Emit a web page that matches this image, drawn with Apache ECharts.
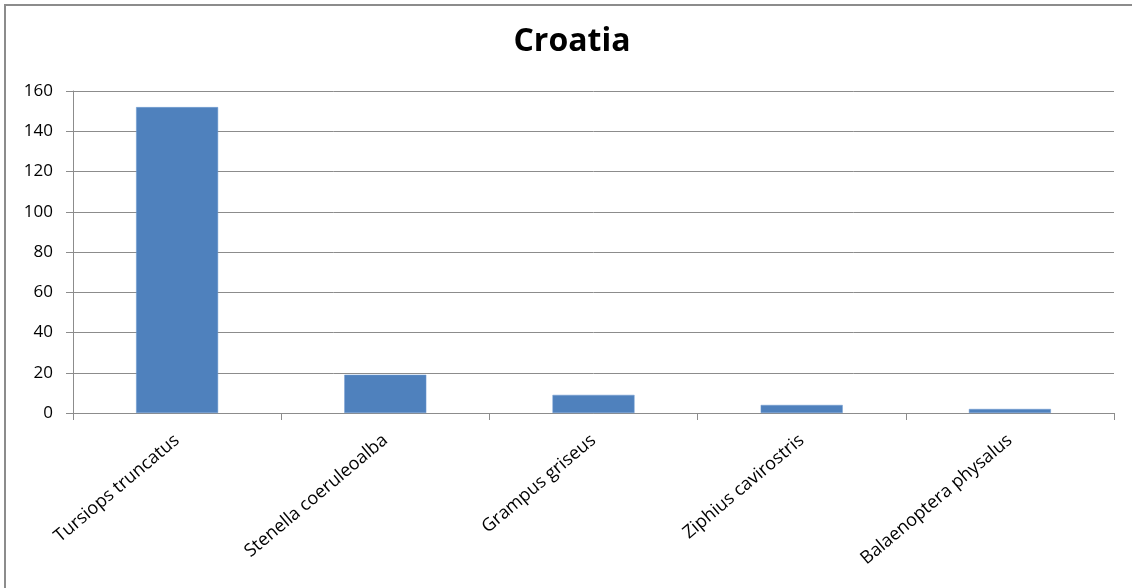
<!DOCTYPE html>
<html>
<head>
<meta charset="utf-8">
<script src="https://cdn.jsdelivr.net/npm/echarts@6/dist/echarts.min.js"></script>
<style>
html,body{margin:0;padding:0;background:#fff;}
#main{width:1132px;height:588px;}
</style>
</head>
<body>
<div id="main"></div>
<script>
const titleText = "Croatia";
const categories = ["Tursiops truncatus", "Stenella coeruleoalba", "Grampus griseus", "Ziphius cavirostris", "Balaenoptera physalus"];
const values = [152, 19, 9, 4, 2];
const yTicks = [0, 20, 40, 60, 80, 100, 120, 140, 160];

const chart = echarts.init(document.getElementById('main'), null, {renderer: 'canvas'});
const font = "'Open Sans', 'Liberation Sans', sans-serif";
chart.setOption({
  backgroundColor: '#fff',
  animation: false,
  title: {
    text: titleText,
    left: 567,
    textAlign: 'center',
    top: 21,
    textStyle: {fontFamily: font, fontWeight: 'bold', fontSize: 32, color: '#000'}
  },
  graphic: [
    {type: 'line', shape: {x1: 4, y1: 5, x2: 1132, y2: 5}, style: {stroke: '#8c8c8c', lineWidth: 2}},
    {type: 'line', shape: {x1: 5, y1: 4, x2: 5, y2: 588}, style: {stroke: '#8c8c8c', lineWidth: 2}}
  ],
  grid: {left: 73, right: 18, top: 91, bottom: 175, containLabel: false},
  xAxis: {
    type: 'category',
    data: categories,
    axisLine: {lineStyle: {color: '#8c8c8c', width: 1}},
    axisTick: {show: true, length: 7, lineStyle: {color: '#8c8c8c'}},
    axisLabel: {rotate: 40, margin: 25, fontFamily: font, fontSize: 18, color: '#000', interval: 0}
  },
  yAxis: {
    type: 'value',
    min: yTicks[0],
    max: yTicks[yTicks.length - 1],
    interval: 20,
    axisLine: {show: true, lineStyle: {color: '#8c8c8c'}},
    axisTick: {show: true, length: 7, lineStyle: {color: '#8c8c8c'}},
    axisLabel: {margin: 20, fontFamily: font, fontSize: 17, color: '#000'},
    splitLine: {show: true, lineStyle: {color: '#8c8c8c', width: 1}}
  },
  series: [{
    type: 'bar',
    data: values,
    barWidth: 82,
    itemStyle: {color: '#4F81BD', borderColor: '#6f9bd0', borderWidth: 0.5}
  }]
});
</script>
</body>
</html>
